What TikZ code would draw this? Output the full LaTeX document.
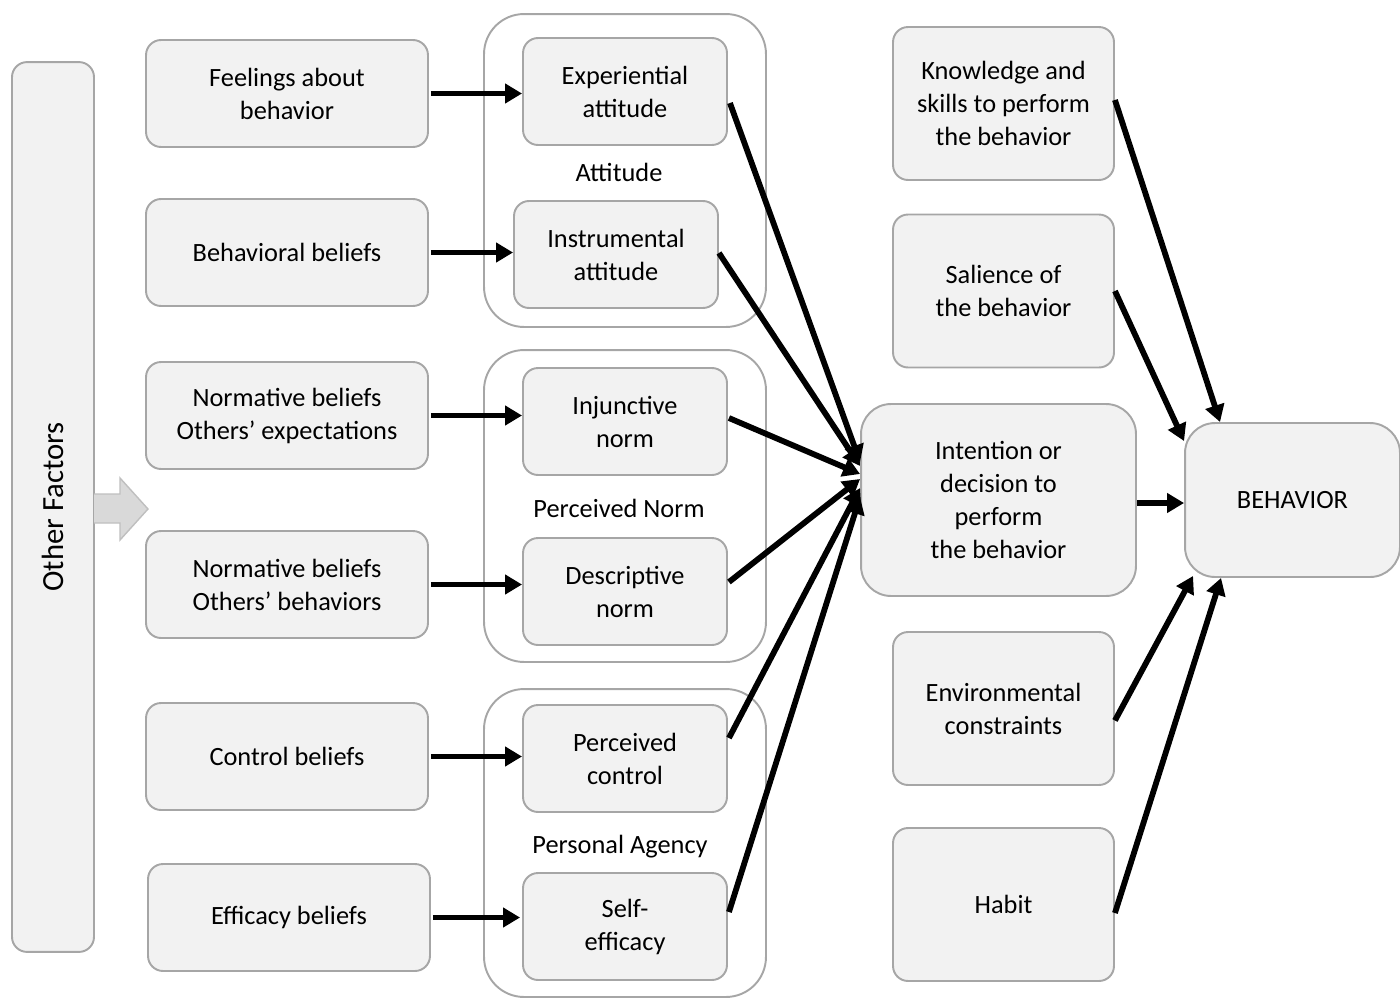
\documentclass[tikz,border=0pt]{standalone}
\usepackage{fontspec}
\setmainfont{Carlito}
\usetikzlibrary{arrows.meta}
\definecolor{boxfill}{HTML}{F2F2F2}
\definecolor{boxline}{HTML}{A6A6A6}
\definecolor{blockfill}{HTML}{D9D9D9}
\definecolor{blockline}{HTML}{BFBFBF}
\begin{document}
\begin{tikzpicture}[x=0.02cm,y=-0.02cm,
	box/.style={draw=boxline,fill=boxfill,line width=1.1pt,rounded corners=0.3cm,align=center,
		font=\fontsize{15}{18.8}\selectfont,inner sep=0pt},
	outer/.style={draw=boxline,line width=1.1pt,rounded corners=0.8cm,inner sep=0pt},
	small/.style={box,minimum width=5.64cm,minimum height=2.14cm},
	inner/.style={box,minimum width=4.08cm,minimum height=2.14cm},
	side/.style={box,minimum width=4.42cm,minimum height=3.06cm},
	lab/.style={font=\fontsize{15}{18.8}\selectfont},
	arr/.style={line width=3.3pt,-{Triangle[length=0.34cm,width=0.38cm]}}]
	\useasboundingbox (0,0) rectangle (1400,998);
	% left side
	\node at (53,507) [box,rotate=90,minimum width=17.8cm,minimum height=1.64cm,font=\fontsize{17.5}{21}\selectfont] (other) {Other Factors};
	\draw[draw=blockline,fill=blockfill,line width=0.8pt] (94,494) -- (120,494) -- (120,478) -- (148,509) -- (120,540) -- (120,523) -- (94,523);
	\node at (287,93.5) [small] (feel) {Feelings about\\behavior};
	\node at (287,252.5) [small] (bbel) {Behavioral beliefs};
	\node at (287,415.5) [small] (nexp) {Normative beliefs\\Others’ expectations};
	\node at (287,584.5) [small] (nbeh) {Normative beliefs\\Others’ behaviors};
	\node at (287,756.5) [small] (cbel) {Control beliefs};
	\node at (289,917.5) [small] (ebel) {Efficacy beliefs};
	% groups
	\node at (625,170.5) [outer,minimum width=5.64cm,minimum height=6.26cm] (attg) {};
	\node at (625,506) [outer,minimum width=5.64cm,minimum height=6.24cm] (normg) {};
	\node at (625,843) [outer,minimum width=5.64cm,minimum height=6.16cm] (agg) {};
	\node at (625,91.5) [inner] (exp) {Experiential\\attitude};
	\node at (619,172) [lab] (attl) {Attitude};
	\node at (616,254.5) [inner] (ins) {Instrumental\\attitude};
	\node at (625,421.5) [inner] (inj) {Injunctive\\norm};
	\node at (619,508) [lab] (norml) {Perceived Norm};
	\node at (625,591.5) [inner] (des) {Descriptive\\norm};
	\node at (625,758.5) [inner] (pct) {Perceived\\control};
	\node at (620,847) [lab] (agl) {Personal Agency};
	\node at (625,926.5) [inner] (sef) {Self-\\efficacy};
	% right side
	\node at (998.5,500) [box,rounded corners=0.6cm,minimum width=5.5cm,minimum height=3.84cm] (int) {Intention or\\decision to\\perform\\the behavior};
	\node at (1292.5,500) [box,rounded corners=0.6cm,minimum width=4.3cm,minimum height=3.08cm] (beh) {BEHAVIOR};
	\node at (1003.5,103.5) [side] (kno) {Knowledge and\\skills to perform\\the behavior};
	\node at (1003.5,291) [side] (sal) {Salience of\\the behavior};
	\node at (1003.5,708.5) [side] (env) {Environmental\\constraints};
	\node at (1003.5,904.5) [side] (hab) {Habit};
	% arrows
	\draw[arr] ([xshift=0.04cm]feel.east) -- (exp.west |- feel.east);
	\draw[arr] ([xshift=0.04cm]bbel.east) -- (ins.west |- bbel.east);
	\draw[arr] ([xshift=0.04cm]nexp.east) -- (inj.west |- nexp.east);
	\draw[arr] ([xshift=0.04cm]nbeh.east) -- (des.west |- nbeh.east);
	\draw[arr] ([xshift=0.04cm]cbel.east) -- (pct.west |- cbel.east);
	\draw[arr] ([xshift=0.04cm]ebel.east) -- ([xshift=-0.04cm]sef.west |- ebel.east);
	\draw[arr] ([xshift=0.04cm,yshift=-0.23cm]exp.east) -- ([yshift=0.76cm]int.west);
	\draw[arr] ([yshift=0.03cm]ins.east) -- ([yshift=0.68cm]int.west);
	\draw[arr] ([xshift=0.02cm,yshift=0.07cm]inj.east) -- ([yshift=0.52cm]int.west);
	\draw[arr] ([xshift=0.02cm,yshift=0.19cm]des.east) -- ([yshift=0.42cm]int.west);
	\draw[arr] ([xshift=0.02cm,yshift=0.41cm]pct.east) -- ([yshift=0.24cm]int.west);
	\draw[arr] ([xshift=0.02cm,yshift=0.29cm]sef.east) -- ([yshift=0.06cm]int.west);
	\draw[arr] (int.east |- 0,503) -- (beh.west |- 0,503);
	\draw[arr] ([yshift=0.07cm]kno.east) -- ([xshift=0.72cm]beh.north west);
	\draw[arr] (sal.east) -- ([yshift=-0.38cm]beh.north west);
	\draw[arr] ([yshift=-0.24cm]env.east) -- ([xshift=0.18cm,yshift=0.04cm]beh.south west);
	\draw[arr] ([yshift=-0.17cm]hab.east) -- ([xshift=0.74cm]beh.south west);
\end{tikzpicture}
\end{document}
